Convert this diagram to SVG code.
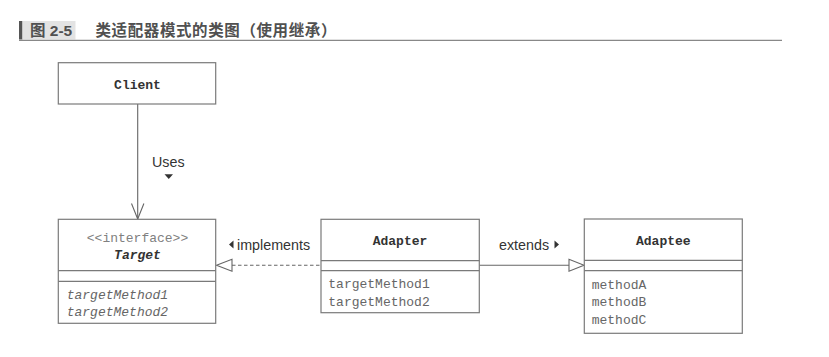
<svg xmlns="http://www.w3.org/2000/svg" width="829" height="357" viewBox="0 0 829 357">
<style>
.box{fill:#fff;stroke:#7a7a7a;stroke-width:1.2}
.div{stroke:#7a7a7a;stroke-width:1.2}
.name{font-family:"Liberation Mono",monospace;font-size:13px;font-weight:bold;fill:#333;text-anchor:middle}
.meth{font-family:"Liberation Mono",monospace;font-size:13px;fill:#666}
.ster{font-family:"Liberation Mono",monospace;font-size:13px;fill:#808080;text-anchor:middle}
.lbl{font-family:"Liberation Sans",Arial,sans-serif;font-size:14.3px;fill:#333}
.conn{stroke:#666;stroke-width:1.1;fill:none}
.tri{fill:#fff;stroke:#666;stroke-width:1.1}
</style>
<rect width="829" height="357" fill="#fff"/>
<g id="header">
<rect x="19" y="21" width="3.5" height="18.5" fill="#555"/>
<rect x="22.5" y="21" width="53" height="18.5" fill="#e3e3e3"/>
<text x="30" y="36" font-family="'Liberation Sans','Noto Sans CJK SC',sans-serif" font-size="15.5" font-weight="bold" fill="#505050">图 2-5</text>
<text x="95.5" y="36" font-family="'Noto Sans CJK SC',sans-serif" font-size="15.5" font-weight="bold" letter-spacing="0.6" fill="#505050">类适配器模式的类图（使用继承）</text>
<line x1="19" y1="40.3" x2="782" y2="40.3" stroke="#888" stroke-width="1.2"/>
</g>
<g id="connectors">
<line class="conn" x1="137.7" y1="104" x2="137.7" y2="219"/>
<polyline class="conn" points="131.5,203.5 137.7,219 143.9,203.5"/>
<line class="conn" x1="232" y1="265.3" x2="321" y2="265.3" stroke-dasharray="3.5,2.5"/>
<polygon class="tri" points="216.5,265.3 232,259.3 232,271.3"/>
<line class="conn" x1="479.3" y1="265.3" x2="569" y2="265.3"/>
<polygon class="tri" points="584,265.3 569,259.3 569,271.3"/>
<text class="lbl" x="152" y="167">Uses</text>
<polygon points="164.5,174.3 173,174.3 168.75,179" fill="#333"/>
<polygon points="233.5,240.5 233.5,248.5 229,244.5" fill="#333"/>
<text class="lbl" x="237" y="250">implements</text>
<text class="lbl" x="499" y="250">extends</text>
<polygon points="554.5,240.5 554.5,248.5 559,244.5" fill="#333"/>
</g>
<g id="client">
<rect class="box" x="58.3" y="62.7" width="157.4" height="41.3"/>
<text class="name" x="137.5" y="88.5">Client</text>
</g>
<g id="target">
<rect class="box" x="58.3" y="219.3" width="157.4" height="104"/>
<line class="div" x1="58.3" y1="270.7" x2="215.7" y2="270.7"/>
<line class="div" x1="58.3" y1="281.3" x2="215.7" y2="281.3"/>
<text class="ster" x="137.5" y="241.5">&lt;&lt;interface&gt;&gt;</text>
<text class="name" x="137.5" y="258.5" font-style="italic">Target</text>
<text class="meth" x="66.7" y="298.5" font-style="italic">targetMethod1</text>
<text class="meth" x="66.7" y="315.5" font-style="italic">targetMethod2</text>
</g>
<g id="adapter">
<rect class="box" x="321" y="219.3" width="158.3" height="93.4"/>
<line class="div" x1="321" y1="260.7" x2="479.3" y2="260.7"/>
<line class="div" x1="321" y1="270.7" x2="479.3" y2="270.7"/>
<text class="name" x="400" y="244.5">Adapter</text>
<text class="meth" x="328.3" y="288">targetMethod1</text>
<text class="meth" x="328.3" y="305.5">targetMethod2</text>
</g>
<g id="adaptee">
<rect class="box" x="584.3" y="219" width="158" height="114.3"/>
<line class="div" x1="584.3" y1="260.3" x2="742.3" y2="260.3"/>
<line class="div" x1="584.3" y1="270.7" x2="742.3" y2="270.7"/>
<text class="name" x="663.3" y="244.5">Adaptee</text>
<text class="meth" x="591.7" y="288.5">methodA</text>
<text class="meth" x="591.7" y="306">methodB</text>
<text class="meth" x="591.7" y="323.5">methodC</text>
</g>
</svg>
